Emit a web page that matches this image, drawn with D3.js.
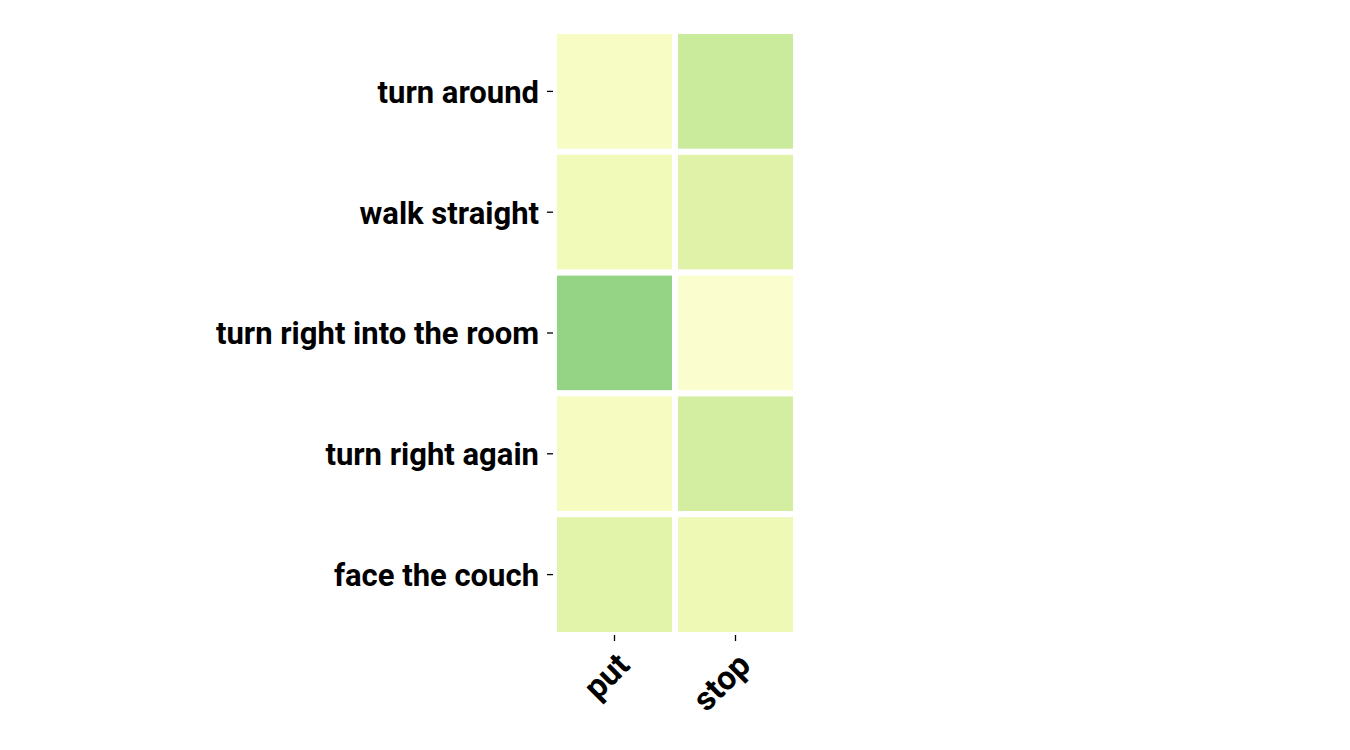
<!DOCTYPE html>
<html><head><meta charset="utf-8">
<script src="https://cdn.jsdelivr.net/npm/d3@7"></script>
<style>body{margin:0;background:#fff}svg{display:block}</style>
</head><body>
<svg id="c" width="1350" height="750"></svg>
<script>
const rows = ["turn around","walk straight","turn right into the room","turn right again","face the couch"];
const cols = ["put","stop"];
const putValues  = [0.10, 0.14, 0.43, 0.11, 0.21];
const stopValues = [0.29, 0.22, 0.07, 0.26, 0.15];

const cells = [];
rows.forEach((r,i)=>{
  cells.push({row:r,col:"put",v:putValues[i]});
  cells.push({row:r,col:"stop",v:stopValues[i]});
});

const svg = d3.select("#c");
const m = {left:554, top:31, width:242, height:604};
const x = d3.scaleBand().domain(cols).range([m.left, m.left+m.width]);
const y = d3.scaleBand().domain(rows).range([m.top, m.top+m.height]);
const color = d3.scaleSequential(d3.interpolateYlGn).domain([0,1]);

svg.append("g").selectAll("rect").data(cells).join("rect")
  .attr("x", d=>x(d.col)).attr("y", d=>y(d.row))
  .attr("width", x.bandwidth()).attr("height", y.bandwidth())
  .attr("fill", d=>color(d.v))
  .attr("stroke","#fff").attr("stroke-width",6);

const font = "Roboto, sans-serif";
const ya = svg.append("g").attr("transform",`translate(${m.left-1},0)`)
  .call(d3.axisLeft(y).tickSize(6).tickPadding(8));
ya.select(".domain").remove();
ya.selectAll("line").attr("stroke","#000").attr("stroke-width",1.3);
ya.selectAll("text").attr("font-family",font).attr("font-weight","bold").attr("font-size",31).attr("fill","#000")
  .attr("dy","0.37em");

const xa = svg.append("g").attr("transform",`translate(0,${m.top+m.height})`)
  .call(d3.axisBottom(x).tickSize(6).tickPadding(8));
xa.select(".domain").remove();
xa.selectAll("line").attr("stroke","#000").attr("stroke-width",1.3);
xa.selectAll("text").attr("font-family",font).attr("font-weight","bold").attr("font-size",33).attr("fill","#000")
  .attr("text-anchor","end").attr("x",0).attr("y",0).attr("dy",0)
  .attr("transform","translate(17,32) rotate(-45)");
</script>
</body></html>
